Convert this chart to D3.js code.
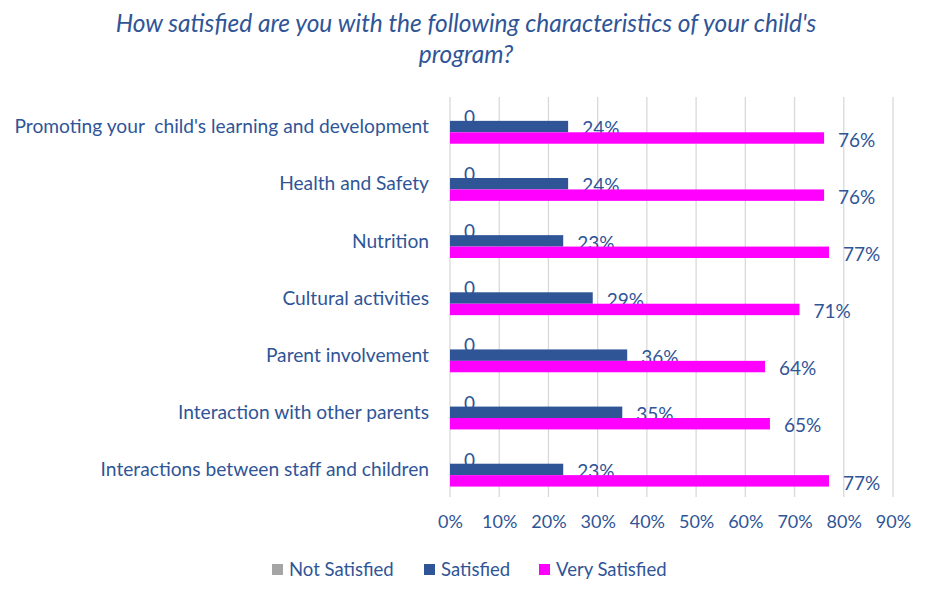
<!DOCTYPE html>
<html>
<head>
<meta charset="utf-8">
<title>Satisfaction with child's program</title>
<script src="https://cdn.jsdelivr.net/npm/d3@7"></script>
<style>
  body { margin: 0; background: #fff; }
  text { font-family: Lato, "Open Sans", sans-serif; fill: #2F5597; }
</style>
</head>
<body>
<script>
// data
var categories = [
  "Promoting your  child's learning and development",
  "Health and Safety",
  "Nutrition",
  "Cultural activities",
  "Parent involvement",
  "Interaction with other parents",
  "Interactions between staff and children"
];
var seriesNames = ["Not Satisfied", "Satisfied", "Very Satisfied"];
var notSatisfied = [0, 0, 0, 0, 0, 0, 0];
var satisfied = [0.24, 0.24, 0.23, 0.29, 0.36, 0.35, 0.23];
var verySatisfied = [0.76, 0.76, 0.77, 0.71, 0.64, 0.65, 0.77];
var xTicks = [0, 0.1, 0.2, 0.3, 0.4, 0.5, 0.6, 0.7, 0.8, 0.9];

var colors = ["#A5A5A5", "#2F5597", "#FF00FF"];
var allSeries = [notSatisfied, satisfied, verySatisfied];

var W = 926, H = 598;
var svg = d3.select("body").append("svg").attr("width", W).attr("height", H);

var x = d3.scaleLinear().domain([0, 0.9]).range([450, 893]);
var y = d3.scaleBand().domain(categories).range([98, 498]).paddingInner(0.4).paddingOuter(0.2);
var ySub = d3.scaleBand().domain(seriesNames).range([0, y.bandwidth()]);

// title
svg.append("text").attr("x", 466).attr("y", 32).attr("text-anchor", "middle")
  .style("font-size", "24.5px").style("font-style", "italic")
  .text("How satisfied are you with the following characteristics of your child's");
svg.append("text").attr("x", 466).attr("y", 63).attr("text-anchor", "middle")
  .style("font-size", "24.5px").style("font-style", "italic")
  .text("program?");

// gridlines
svg.append("g").selectAll("line").data(xTicks).enter().append("line")
  .attr("x1", function(d) { return x(d); }).attr("x2", function(d) { return x(d); })
  .attr("y1", 97).attr("y2", 497)
  .attr("stroke", "#D9D9D9").attr("stroke-width", 1.3);

// x axis tick labels
var xAxis = d3.axisBottom(x).tickValues(xTicks).tickFormat(d3.format(".0%")).tickSize(0).tickPadding(0);
var gx = svg.append("g").attr("transform", "translate(0,515)").call(xAxis);
gx.select(".domain").remove();
gx.selectAll("text").attr("dy", "0.71em").style("font-size", "18px")
  .style("font-family", "Lato, sans-serif").attr("fill", "#2F5597");

// category labels
svg.append("g").selectAll("text").data(categories).enter().append("text")
  .attr("x", 429).attr("y", function(d) { return y(d) + y.bandwidth() / 2; })
  .attr("dy", "0.35em").attr("text-anchor", "end")
  .style("font-size", "19.2px").style("white-space", "pre")
  .text(function(d) { return d; });

// bars and labels
allSeries.forEach(function(vals, si) {
  var g = svg.append("g");
  g.selectAll("rect").data(vals).enter().append("rect")
    .attr("x", x(0))
    .attr("y", function(d, i) { return y(categories[i]) + ySub(seriesNames[si]); })
    .attr("width", function(d) { return x(d) - x(0); })
    .attr("height", ySub.bandwidth())
    .attr("fill", colors[si]);
  g.selectAll("text").data(vals).enter().append("text")
    .attr("x", function(d) { return x(d) + 14; })
    .attr("y", function(d, i) { return y(categories[i]) + ySub(seriesNames[si]) + ySub.bandwidth() / 2 + 2; })
    .attr("dy", "0.35em")
    .style("font-size", "19px")
    .text(function(d) { return si === 0 ? "0" : d3.format(".0%")(d); });
});

// legend
var legendX = [272, 424, 539];
var lg = svg.append("g").selectAll("g").data(seriesNames).enter().append("g")
  .attr("transform", function(d, i) { return "translate(" + legendX[i] + ",564)"; });
lg.append("rect").attr("width", 11).attr("height", 11)
  .attr("fill", function(d, i) { return colors[i]; });
lg.append("text").attr("x", 17).attr("y", 6).attr("dy", "0.35em")
  .style("font-size", "18.5px").text(function(d) { return d; });
</script>
</body>
</html>
